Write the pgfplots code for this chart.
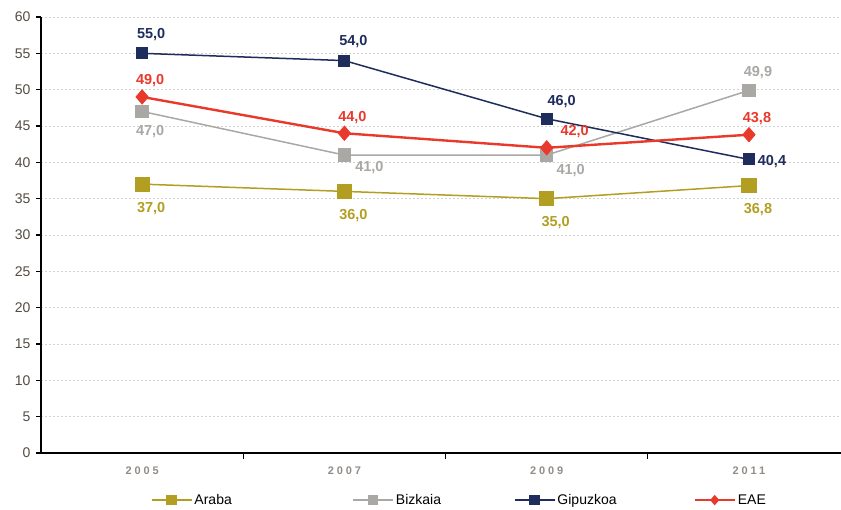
\documentclass[border=0pt]{standalone}
\usepackage{fontspec}
\setmainfont{Liberation Sans}
\usepackage{pgfplots}
\pgfplotsset{compat=1.18}

\definecolor{araba}{RGB}{178,158,32}
\definecolor{bizkaia}{RGB}{170,168,165}
\definecolor{gipuz}{RGB}{31,45,92}
\definecolor{eae}{RGB}{232,57,43}
\definecolor{ticktxt}{RGB}{85,75,65}
\definecolor{xtxt}{RGB}{145,140,135}

\begin{document}
\begin{tikzpicture}
\begin{axis}[
  scale only axis,
  width=800bp, height=436bp,
  xmin=-0.5, xmax=3.455,
  ymin=0, ymax=60,
  clip=false,
  axis x line*=bottom, axis y line*=left,
  axis line style={black, line width=1.6bp},
  ytick={0,5,...,60},
  xtick={0,1,2,3},
  xticklabels={2005,2007,2009,2011},
  minor xtick={0.5,1.5,2.5},
  major x tick style={draw=none},
  minor x tick style={black, line width=1bp},
  y tick style={black, line width=1.2bp},
  tick align=outside,
  major tick length=5bp, minor tick length=6bp,
  ymajorgrids,
  grid style={dashed, dash pattern=on 2bp off 2bp, gray!35, line width=0.6bp},
  /pgf/number format/assume math mode=true,
  yticklabel style={font=\fontsize{14bp}{16bp}\selectfont, text=ticktxt, xshift=-2bp},
  xticklabel style={font=\bfseries\fontsize{11bp}{13bp}\selectfont\addfontfeatures{LetterSpace=26}, text=xtxt, yshift=-5bp},
  point meta=explicit symbolic,
  nodes near coords,
  nodes near coords style={font=\bfseries\fontsize{14.5bp}{16bp}\selectfont, inner sep=0pt, anchor=center},
  legend columns=4,
  legend style={at={(axis description cs:0.1375,-0.108)}, anchor=west, draw=none, fill=none,
    inner sep=0pt, outer sep=0pt, font=\fontsize{14bp}{16bp}\selectfont,
    /tikz/every even column/.style={column sep=0pt},
    nodes={inner sep=2bp, anchor=west}},
  legend image code/.code={\draw[mark size=4.5bp, mark repeat=2, mark phase=2] plot coordinates {(0bp,0bp) (20bp,0bp) (40bp,0bp)};},
]
% Araba
\addplot[color=araba, line width=1.5bp, mark=square*, mark size=6.8bp,
  nodes near coords style={text=araba, xshift=9bp, yshift=-24bp}]
  coordinates {(0,37.0) [37,0] (1,36.0) [36,0] (2,35.0) [35,0] (3,36.8) [36,8]};
\addlegendentry{\makebox[156bp][l]{Araba}}
% Bizkaia
\addplot[color=bizkaia, line width=1.5bp, mark=square*, mark size=6bp,
  nodes near coords style={text=bizkaia, xshift=8bp, yshift=-20bp},
  coordinate style/.condition={x==1}{xshift=17bp, yshift=8bp},
  coordinate style/.condition={x==2}{xshift=16bp, yshift=5bp},
  coordinate style/.condition={x==3}{xshift=1bp, yshift=38bp}]
  coordinates {(0,47.0) [47,0] (1,41.0) [41,0] (2,41.0) [41,0] (3,49.9) [49,9]};
\addlegendentry{\makebox[116bp][l]{Bizkaia}}
% Gipuzkoa
\addplot[color=gipuz, line width=1.5bp, mark=square*, mark size=5.2bp,
  nodes near coords style={text=gipuz, xshift=9bp, yshift=19bp},
  coordinate style/.condition={x==2}{xshift=6bp, yshift=-2bp},
  coordinate style/.condition={x==3}{xshift=14bp, yshift=-21bp}]
  coordinates {(0,55.0) [55,0] (1,54.0) [54,0] (2,46.0) [46,0] (3,40.4) [40,4]};
\addlegendentry{\makebox[134bp][l]{Gipuzkoa}}
% EAE
\addplot[color=eae, line width=2.4bp, mark=diamond*, mark size=7bp,
  mark options={xscale=1.15, line width=1bp},
  nodes near coords style={text=eae, xshift=8bp, yshift=16bp},
  coordinate style/.condition={x==2}{xshift=20bp}]
  coordinates {(0,49.0) [49,0] (1,44.0) [44,0] (2,42.0) [42,0] (3,43.8) [43,8]};
\addlegendentry{EAE}
\end{axis}
\pgfresetboundingbox
\path (-41bp,-57bp) rectangle (800bp,453bp);
\end{tikzpicture}
\end{document}
